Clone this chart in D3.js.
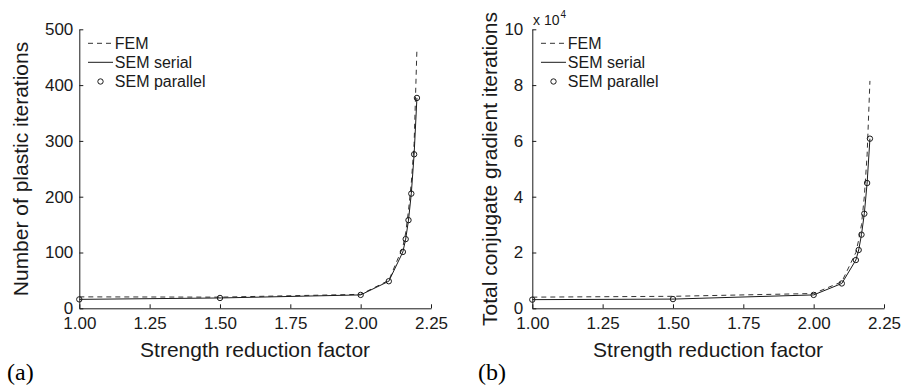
<!DOCTYPE html>
<html>
<head>
<meta charset="utf-8">
<script src="https://cdn.jsdelivr.net/npm/d3@7"></script>
<style>
  body { margin: 0; background: #fff; }
  svg { display: block; font-family: "Liberation Sans", Arial, Helvetica, sans-serif; }
</style>
</head>
<body>
<svg id="chart" width="903" height="390"></svg>
<script>
// strength reduction factors (shared x values)
const srf = [1.0, 1.5, 2.0, 2.1, 2.15, 2.16, 2.17, 2.18, 2.19, 2.2];

// (a) number of plastic iterations
const plasticFEM = [20.5, 20, 25, 50, 110, 135, 175, 225, 295, 465];
const plasticSEMserial = [16, 18.5, 24, 48.5, 101, 124, 158, 205.5, 276, 377];
const plasticSEMparallel = [16, 18.5, 24, 48.5, 101, 124, 158, 205.5, 276, 377];

// (b) total conjugate gradient iterations
const cgFEM = [4000, 4300, 5300, 9500, 20000, 24500, 30000, 40000, 55000, 81500];
const cgSEMserial = [3100, 3300, 4800, 8900, 17300, 20900, 26400, 33900, 44900, 60800];
const cgSEMparallel = [3100, 3300, 4800, 8900, 17300, 20900, 26400, 33900, 44900, 60800];

const xTicks = [1.0, 1.25, 1.5, 1.75, 2.0, 2.25];
const plasticTicks = [0, 100, 200, 300, 400, 500];
const cgTicks = [0, 20000, 40000, 60000, 80000, 100000];

const legendLabels = ["FEM", "SEM serial", "SEM parallel"];

const INK = "#1a1a1a";
const svg = d3.select("#chart");
svg.append("rect").attr("width", 903).attr("height", 390).attr("fill", "#fff");

function drawPanel(opt) {
  const x = d3.scaleLinear().domain([1, 2.25]).range([opt.left, opt.left + 351.7]);
  const y = d3.scaleLinear().domain(opt.yDomain).range([308.3, 29.3]);

  const g = svg.append("g");

  const xAxis = g.append("g")
    .attr("transform", "translate(0,308.3)")
    .call(d3.axisBottom(x).tickValues(xTicks).tickFormat(d3.format(".2f"))
      .tickSizeInner(-4).tickSizeOuter(0).tickPadding(9));
  const yAxis = g.append("g")
    .attr("transform", `translate(${opt.left},0)`)
    .call(d3.axisLeft(y).tickValues(opt.yTicks).tickFormat(opt.yFormat)
      .tickSizeInner(-4).tickSizeOuter(0).tickPadding(opt.yPad));

  [xAxis, yAxis].forEach(a => {
    a.selectAll("path, line").attr("stroke", INK).attr("stroke-width", 1);
    a.selectAll("text").attr("fill", INK).style("font-size", "17px")
      .style("font-family", '"Liberation Sans", Arial, sans-serif');
  });

  const line = d3.line().x((d, i) => x(srf[i])).y(d => y(d));

  g.append("path")
    .attr("d", line(opt.fem))
    .attr("fill", "none").attr("stroke", "#333").attr("stroke-width", 1)
    .attr("stroke-dasharray", "5,4");
  g.append("path")
    .attr("d", line(opt.serial))
    .attr("fill", "none").attr("stroke", INK).attr("stroke-width", 1);
  g.selectAll(".pt").data(opt.parallel).join("circle")
    .attr("cx", (d, i) => x(srf[i])).attr("cy", d => y(d)).attr("r", 2.7)
    .attr("fill", "none").attr("stroke", INK).attr("stroke-width", 1);

  // legend
  const lg = g.append("g").attr("transform", `translate(${opt.left},0)`);
  const rows = [43.3, 62.3, 81.5];
  lg.append("line").attr("x1", 8.7).attr("x2", 33.7).attr("y1", rows[0]).attr("y2", rows[0])
    .attr("stroke", "#333").attr("stroke-dasharray", "5,4");
  lg.append("line").attr("x1", 8.7).attr("x2", 33.7).attr("y1", rows[1]).attr("y2", rows[1])
    .attr("stroke", INK);
  lg.append("circle").attr("cx", 21.2).attr("cy", rows[2]).attr("r", 2.7)
    .attr("fill", "none").attr("stroke", INK);
  lg.selectAll("text").data(legendLabels).join("text")
    .attr("x", 35.5).attr("y", (d, i) => rows[i]).attr("dy", "0.35em")
    .attr("fill", INK).style("font-size", "16px").text(d => d);

  // axis titles
  g.append("text")
    .attr("x", opt.left + 175.8).attr("y", 357)
    .attr("text-anchor", "middle").attr("fill", INK).style("font-size", "21px")
    .text("Strength reduction factor");
  g.append("text")
    .attr("transform", `translate(${opt.yLabelX},169) rotate(-90)`)
    .attr("text-anchor", "middle").attr("fill", INK).style("font-size", "21px")
    .text(opt.yLabel);

  g.append("text")
    .attr("x", opt.tagX).attr("y", 380)
    .attr("fill", "#000").style("font-family", '"Liberation Serif", "Times New Roman", serif')
    .style("font-size", "24px").text(opt.tag);

  return g;
}

drawPanel({
  left: 79.3, yDomain: [0, 500], yTicks: plasticTicks, yFormat: d3.format("d"), yPad: 6,
  fem: plasticFEM, serial: plasticSEMserial, parallel: plasticSEMparallel,
  yLabel: "Number of plastic iterations", yLabelX: 28, tag: "(a)", tagX: 7
});

const gb = drawPanel({
  left: 532.3, yDomain: [0, 100000], yTicks: cgTicks, yFormat: d => d / 10000, yPad: 9,
  fem: cgFEM, serial: cgSEMserial, parallel: cgSEMparallel,
  yLabel: "Total conjugate gradient iterations", yLabelX: 497, tag: "(b)", tagX: 478
});

// exponent label
const ex = gb.append("text").attr("x", 533).attr("y", 25).attr("fill", INK).style("font-size", "14px");
ex.append("tspan").text("x 10");
ex.append("tspan").attr("dy", -7).attr("dx", 1).style("font-size", "10px").text("4");
</script>
</body>
</html>
